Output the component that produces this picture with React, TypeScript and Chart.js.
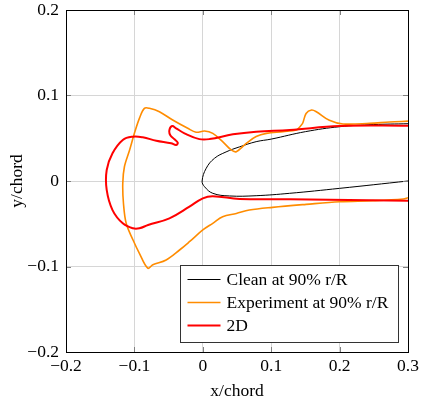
import { useEffect, useRef } from 'react';
import { Chart, registerables } from 'chart.js';

Chart.register(...registerables);

// Axis ticks
const xTicks = [-0.2, -0.1, 0, 0.1, 0.2, 0.3];
const yTicks = [-0.2, -0.1, 0, 0.1, 0.2];

// Clean airfoil contour (upper TE -> LE -> lower TE)
const cleanX = [0.3, 0.25, 0.2, 0.15, 0.1, 0.078, 0.054, 0.034, 0.017, 0.005, -0.001, 0.0025, 0.0146, 0.039, 0.078, 0.127, 0.2, 0.3];
const cleanY = [0.067, 0.066, 0.0635, 0.0577, 0.049, 0.046, 0.04, 0.034, 0.0265, 0.0149, 0.0, -0.0066, -0.0144, -0.0175, -0.0172, -0.0144, -0.0086, 0.0];

// Experimental ice shape contour
const expX = [0.3, 0.273, 0.244, 0.205, 0.185, 0.166, 0.159, 0.151, 0.146, 0.142, 0.137, 0.117, 0.093, 0.078, 0.0635, 0.049, 0.0415, 0.029, 0.0146, 0.0025, -0.0098, -0.022, -0.044, -0.0634, -0.078, -0.0854, -0.0927, -0.1, -0.107, -0.1146, -0.117, -0.116, -0.112, -0.102, -0.0927, -0.0805, -0.073, -0.0536, -0.034, -0.0195, 0.0, 0.0146, 0.029, 0.049, 0.068, 0.102, 0.151, 0.2, 0.249, 0.293, 0.3];
const expY = [0.07, 0.069, 0.0675, 0.0667, 0.071, 0.081, 0.083, 0.079, 0.0675, 0.0635, 0.0597, 0.0577, 0.0557, 0.052, 0.044, 0.0343, 0.0363, 0.046, 0.0557, 0.0585, 0.057, 0.0616, 0.0713, 0.081, 0.085, 0.085, 0.0733, 0.0558, 0.0363, 0.0167, -0.0027, -0.026, -0.0495, -0.069, -0.0846, -0.102, -0.098, -0.0924, -0.0807, -0.071, -0.0573, -0.0495, -0.0418, -0.038, -0.034, -0.0308, -0.0273, -0.0242, -0.023, -0.021, -0.0195];

// 2D ice shape contour
const twoDX = [0.3, 0.2, 0.127, 0.078, 0.044, 0.0098, -0.005, -0.0268, -0.039, -0.0448, -0.0488, -0.0477, -0.0414, -0.0366, -0.039, -0.0463, -0.068, -0.0878, -0.1025, -0.117, -0.132, -0.1405, -0.1405, -0.132, -0.117, -0.102, -0.0927, -0.08, -0.0488, -0.0195, 0.0, 0.0146, 0.0537, 0.127, 0.3];
const twoDY = [0.0647, 0.0643, 0.0597, 0.0577, 0.0546, 0.049, 0.049, 0.0558, 0.0616, 0.0643, 0.0597, 0.0538, 0.0488, 0.0448, 0.0421, 0.0441, 0.0471, 0.0511, 0.0518, 0.048, 0.0324, 0.0129, -0.0105, -0.034, -0.0495, -0.0553, -0.0553, -0.0515, -0.0437, -0.03, -0.0203, -0.0178, -0.021, -0.0214, -0.023];

const seriesLabels = ['Clean at 90% r/R', 'Experiment at 90% r/R', '2D'];
const seriesColors = ['#000000', '#ff8c00', '#ff0000'];

const FONT_FAMILY = "'Liberation Serif', 'Times New Roman', serif";
const FONT_SIZE = 17.5;

const zip = (xs: number[], ys: number[]) => xs.map((x, i) => ({ x, y: ys[i] }));

const fmt = (v: number) => (v === 0 ? '0' : (v < 0 ? '\u2212' : '') + Math.abs(v).toFixed(1));

// Frame, inward tick marks and a boxed legend inside the plot
const framePlugin = {
  id: 'frameAndLegend',
  afterDraw(chart: any) {
    const { ctx, chartArea } = chart;
    const { left, right, top, bottom } = chartArea;
    const xs = chart.scales.x;
    const ys = chart.scales.y;
    ctx.save();
    ctx.strokeStyle = '#808080';
    ctx.lineWidth = 1;
    const tl = 5;
    ctx.beginPath();
    xTicks.forEach((v) => {
      const px = Math.round(xs.getPixelForValue(v)) + 0.5;
      ctx.moveTo(px, bottom);
      ctx.lineTo(px, bottom - tl);
      ctx.moveTo(px, top);
      ctx.lineTo(px, top + tl);
    });
    yTicks.forEach((v) => {
      const py = Math.round(ys.getPixelForValue(v)) + 0.5;
      ctx.moveTo(left, py);
      ctx.lineTo(left + tl, py);
      ctx.moveTo(right, py);
      ctx.lineTo(right - tl, py);
    });
    ctx.stroke();

    ctx.strokeStyle = '#000';
    ctx.strokeRect(Math.round(left) + 0.5, Math.round(top) + 0.5, Math.round(right - left), Math.round(bottom - top));

    // legend
    ctx.font = `${FONT_SIZE}px ${FONT_FAMILY}`;
    const items = seriesLabels.map((label, i) => ({ label, color: seriesColors[i], w: chart.data.datasets[i].borderWidth }));
    const textW = Math.max(...items.map((it) => ctx.measureText(it.label).width));
    const rowH = 23;
    const w = Math.round(46 + textW + 10);
    const h = rowH * items.length + 8;
    const bx = Math.round(right - 10 - w) + 0.5;
    const by = Math.round(bottom - 10 - h) + 0.5;
    ctx.fillStyle = '#fff';
    ctx.fillRect(bx, by, w, h);
    ctx.strokeStyle = '#333';
    ctx.lineWidth = 1;
    ctx.strokeRect(bx, by, w, h);
    ctx.textBaseline = 'middle';
    ctx.textAlign = 'left';
    items.forEach((it, i) => {
      const cy = by + 14 + i * rowH;
      ctx.strokeStyle = it.color;
      ctx.lineWidth = it.w;
      ctx.beginPath();
      ctx.moveTo(bx + 7, cy);
      ctx.lineTo(bx + 40, cy);
      ctx.stroke();
      ctx.fillStyle = '#000';
      ctx.fillText(it.label, bx + 46, cy + 1);
    });
    ctx.restore();
  },
};

export default function App() {
  const ref = useRef<HTMLCanvasElement>(null);

  useEffect(() => {
    if (!ref.current) return;
    const tickFont = { family: FONT_FAMILY, size: FONT_SIZE };
    const chart = new Chart(ref.current, {
      type: 'scatter',
      data: {
        datasets: [
          {
            label: seriesLabels[0],
            data: zip(cleanX, cleanY),
            borderColor: seriesColors[0],
            borderWidth: 1,
            showLine: true,
            pointRadius: 0,
            tension: 0.4,
            order: 2,
          },
          {
            label: seriesLabels[1],
            data: zip(expX, expY),
            borderColor: seriesColors[1],
            borderWidth: 1.6,
            showLine: true,
            pointRadius: 0,
            tension: 0.35,
            order: 1,
          },
          {
            label: seriesLabels[2],
            data: zip(twoDX, twoDY),
            borderColor: seriesColors[2],
            borderWidth: 2,
            showLine: true,
            pointRadius: 0,
            tension: 0.4,
            order: 0,
          },
        ],
      },
      options: {
        animation: false,
        responsive: false,
        devicePixelRatio: 1,
        layout: { padding: { top: 10, right: 38, bottom: 0, left: 0 } },
        plugins: {
          legend: { display: false },
          tooltip: { enabled: false },
        },
        scales: {
          x: {
            type: 'linear',
            min: -0.2,
            max: 0.3,
            afterBuildTicks: (s: any) => {
              s.ticks = xTicks.map((value) => ({ value }));
            },
            afterFit: (s: any) => {
              s.height = 53;
              s.paddingLeft = 0;
              s.paddingRight = 0;
            },
            ticks: {
              font: tickFont,
              color: '#000',
              padding: 4,
              maxRotation: 0,
              callback: (v: any) => fmt(Number(v)),
            },
            grid: { color: '#d6d6d6', drawTicks: false },
            border: { display: false },
            title: {
              display: true,
              text: 'x/chord',
              font: tickFont,
              color: '#000',
              padding: { top: 0, bottom: 3 },
            },
          },
          y: {
            type: 'linear',
            min: -0.2,
            max: 0.2,
            afterBuildTicks: (s: any) => {
              s.ticks = yTicks.map((value) => ({ value }));
            },
            afterFit: (s: any) => {
              s.width = 66;
              s.paddingTop = 0;
              s.paddingBottom = 0;
            },
            ticks: {
              font: tickFont,
              color: '#000',
              padding: 7,
              callback: (v: any) => fmt(Number(v)),
            },
            grid: { color: '#d6d6d6', drawTicks: false },
            border: { display: false },
            title: {
              display: true,
              text: 'y/chord',
              font: tickFont,
              color: '#000',
              padding: { top: 7, bottom: 0 },
            },
          },
        },
      },
      plugins: [framePlugin],
    } as any);
    return () => chart.destroy();
  }, []);

  return (
    <div style={{ position: 'absolute', left: 0, top: 0, width: 446, height: 405 }}>
      <canvas ref={ref} width={446} height={405} style={{ display: 'block' }} />
    </div>
  );
}
